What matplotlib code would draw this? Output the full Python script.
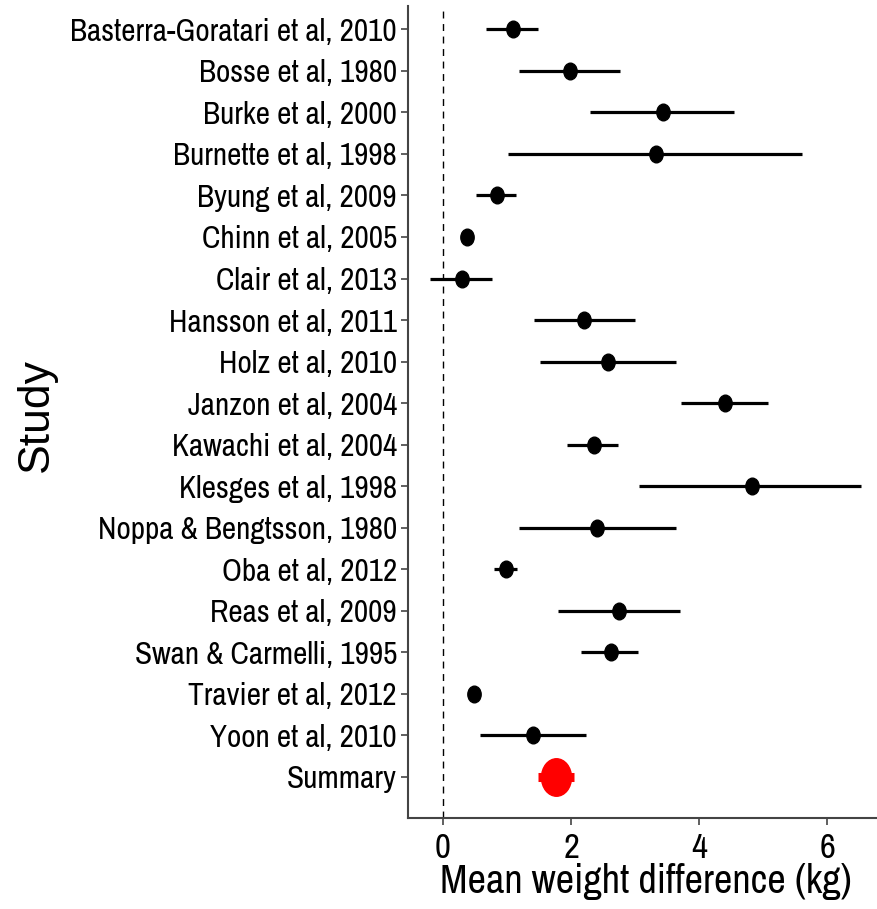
import numpy as np
import matplotlib
matplotlib.use("Agg")
import matplotlib.pyplot as plt
from matplotlib.path import Path

# ---- data ----
studies = [
    "Basterra-Goratari et al, 2010",
    "Bosse et al, 1980",
    "Burke et al, 2000",
    "Burnette et al, 1998",
    "Byung et al, 2009",
    "Chinn et al, 2005",
    "Clair et al, 2013",
    "Hansson et al, 2011",
    "Holz et al, 2010",
    "Janzon et al, 2004",
    "Kawachi et al, 2004",
    "Klesges et al, 1998",
    "Noppa & Bengtsson, 1980",
    "Oba et al, 2012",
    "Reas et al, 2009",
    "Swan & Carmelli, 1995",
    "Travier et al, 2012",
    "Yoon et al, 2010",
]
mean_diff = [1.09, 1.98, 3.44, 3.32, 0.84, 0.37, 0.29, 2.20, 2.58, 4.40,
             2.35, 4.82, 2.40, 0.99, 2.75, 2.62, 0.48, 1.41]
ci_lower = [0.67, 1.18, 2.30, 1.02, 0.52, 0.30, -0.21, 1.42, 1.52, 3.71,
            1.94, 3.06, 1.18, 0.79, 1.79, 2.16, 0.42, 0.58]
ci_upper = [1.49, 2.77, 4.55, 5.61, 1.14, 0.44, 0.76, 3.00, 3.63, 5.08,
            2.73, 6.53, 3.63, 1.16, 3.70, 3.04, 0.54, 2.24]

summary_label = "Summary"
summary_mean = 1.77
summary_lower = 1.48
summary_upper = 2.05

# ---- plot ----
narrow = ["Archivo Narrow", "Liberation Sans", "DejaVu Sans"]
plt.rcParams["font.family"] = narrow

fig = plt.figure(figsize=(8.78, 9.09), dpi=100)
ax = fig.add_axes([408 / 878, 1 - 817.7 / 909, 1 - 408 / 878, (817.7 - 6) / 909])

# ellipse marker (the original is slightly stretched vertically)
circ = Path.unit_circle()
ell = Path(circ.vertices * np.array([1.0, 1.25]), circ.codes)

n = len(studies)
ypos = np.arange(n, 0, -1) + 1  # first study on top, summary at y=1

ax.axvline(0, color="black", lw=1.0, ls=(0, (5, 4)), zorder=1)

ax.hlines(ypos, ci_lower, ci_upper, color="black", lw=2.3, zorder=2)
ax.plot(mean_diff, ypos, ls="none", marker=ell, ms=12, color="black", zorder=3)

ax.hlines(1, summary_lower, summary_upper, color="red", lw=6.5, zorder=2)
ax.plot([summary_mean], [1], ls="none", marker=ell, ms=27, color="red", zorder=3)

ax.set_xlim(-0.546, 6.79)
ax.set_ylim(0.02, 19.56)
ax.set_xticks([0, 2, 4, 6])
ax.set_yticks(list(ypos) + [1])
ax.set_yticklabels(studies + [summary_label])

for s in ["top", "right"]:
    ax.spines[s].set_visible(False)
for s in ["left", "bottom"]:
    ax.spines[s].set_color("#444444")
    ax.spines[s].set_linewidth(1.5)

ax.tick_params(axis="y", labelsize=22.5, length=5, width=1.2, color="#444444", pad=3)
ax.tick_params(axis="x", labelsize=25, length=5, width=1.2, color="#444444", pad=5)

ax.set_xlabel("Mean weight difference (kg)", fontsize=29)
ax.xaxis.set_label_coords(0.506, -0.056)
ax.set_ylabel("Study", fontsize=32, family=["Liberation Sans", "DejaVu Sans"])
ax.yaxis.set_label_coords(-0.748, 0.496)

fig.savefig("out.png", dpi=100)
